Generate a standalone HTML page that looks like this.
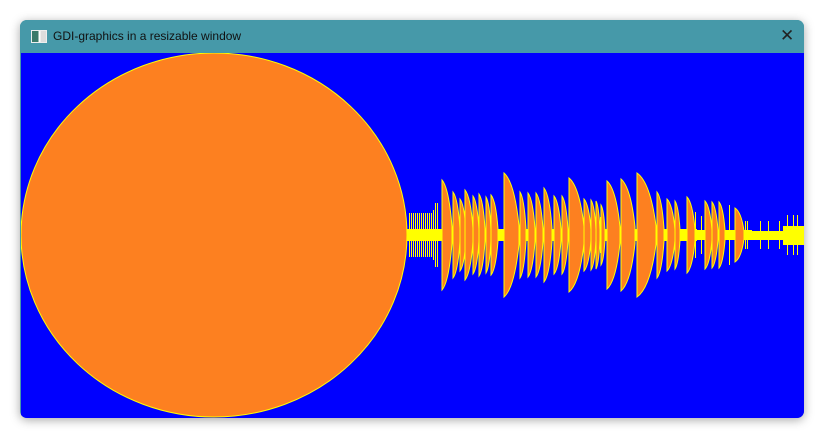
<!DOCTYPE html>
<html><head><meta charset="utf-8">
<style>
html,body{margin:0;padding:0;background:#fff;width:828px;height:439px;overflow:hidden;font-family:"Liberation Sans",sans-serif}
#win{position:absolute;left:20px;top:20px;width:784px;height:398px;border-radius:7px;overflow:hidden;box-shadow:0 2px 10px rgba(0,0,0,0.35);background:#4699a9}
#title{position:absolute;left:0;top:0;width:784px;height:33px;background:#4699a9}
#ttext{position:absolute;left:33px;top:9px;font-size:12px;color:#111}
#ticon{position:absolute;left:11px;top:10px;width:14px;height:11px;border:1px solid #eee;background:linear-gradient(90deg,#3b7a6a 0 45%,#fff 45% 60%,#ddd 60%)}
#close{position:absolute;left:760px;top:6px;font-size:17px;color:#222}
#client{position:absolute;left:1px;top:33px}
rect{shape-rendering:crispEdges}
</style></head><body>
<div id="win">
 <div id="title">
  <div id="ticon"></div>
  <div id="ttext">GDI-graphics in a resizable window</div>
  <div id="close">✕</div>
 </div>
 <svg id="client" width="783" height="365">
  <rect width="783" height="365" fill="#0000ff"/>
  <g id="marks" transform="translate(-21,-53)"></g>
 </svg>
</div>
<script>
const shapeX=[442,453,460,465,473,479,486,491,504,520,528,536,544,554,562,569,584,591,596,601,607,621,637,657,667,675,687,705,712,719,735];
const shapeW=[10,7,6,8,6,6,5,7,15,6,7,7,8,7,6,15,7,5,4,4,13,14,19,7,8,5,8,7,6,6,9];
const shapeTop=[180,192,199,190,196,194,197,195,173,192,193,193,188,196,196,178,199,200,201,205,181,179,173,192,199,201,197,201,202,202,208];
const lineX=[409,411,413,415,417,419,421,423,425,427,429,431,433,435,437,600,695,701,729,745,747,760,768,779,787,793,797];
const lineTop=[213,213,213,213,213,213,213,213,213,213,213,213,210,203,203,217,212,216,205,221,221,221,221,221,215,215,215];
const cy=235;
const g=document.getElementById('marks');
const NS='http://www.w3.org/2000/svg';
function mk(tag,attrs){const e=document.createElementNS(NS,tag);for(const k in attrs)e.setAttribute(k,attrs[k]);g.appendChild(e);return e;}
const circ=mk('ellipse',{cx:214,cy:235,rx:193,ry:182,fill:'#fd8020',stroke:'#ffff00','stroke-width':1});


const bands=[[407,697,229,241],[697,752,230,240],[752,783,231,240],[783,805,226,245]];
bands.forEach(b=>{const r=mk('rect',{x:b[0],y:b[2],width:b[1]-b[0],height:b[3]-b[2],fill:'#ffff00'});

});
lineX.forEach((x,i)=>{const h=cy-lineTop[i];const l=mk('rect',{x:x,y:cy-h,width:1,height:2*h,fill:'#ffff00'});

});
shapeX.forEach((x0,i)=>{const w=shapeW[i],h=cy-shapeTop[i],x1=x0+w;
const d=`M${x0},${cy-h} Q${x0+0.7*w},${cy-0.85*h} ${x1},${cy-0.15*h} L${x1},${cy+0.15*h} Q${x0+0.7*w},${cy+0.85*h} ${x0},${cy+h} Z`;
const p=mk('path',{d:d,fill:'#fd8020',stroke:'#ffff00','stroke-width':1});

});
</script>
</body></html>
